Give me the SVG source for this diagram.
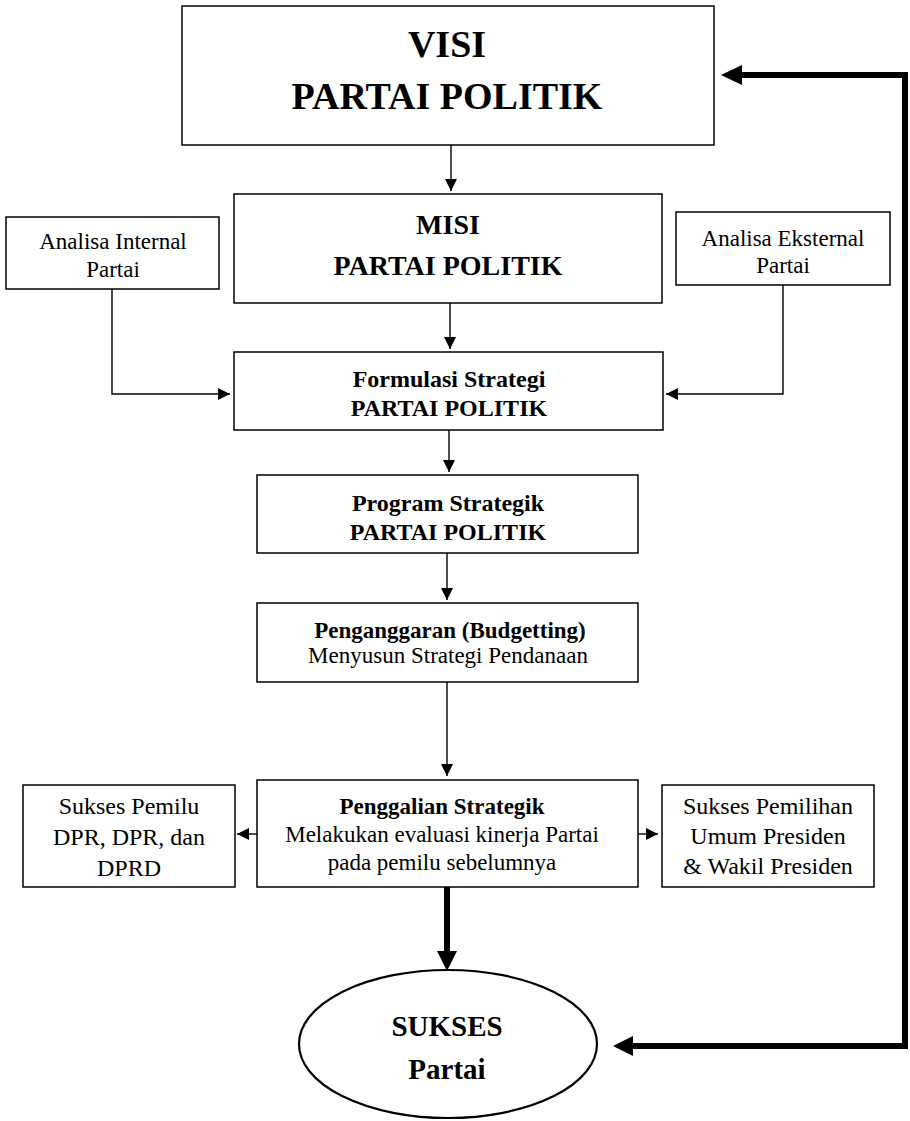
<svg xmlns="http://www.w3.org/2000/svg" width="910" height="1121" viewBox="0 0 910 1121">
  <style>
    .box { fill: #fff; stroke: #000; stroke-width: 1.5; }
    .t { font-family: "Liberation Serif", "DejaVu Serif", serif; fill: #000; text-anchor: middle; }
    .b { font-weight: bold; }
    .s { font-size: 23px; }
    .m { font-size: 24px; }
    .thin { fill: none; stroke: #000; stroke-width: 1.4; }
    .thick { fill: none; stroke: #000; stroke-width: 6; stroke-linejoin: miter; }
    .head { fill: #000; }
  </style>
  <defs>
    <marker id="arr" markerWidth="12" markerHeight="12" viewBox="0 0 12 12" refX="12" refY="6" orient="auto" markerUnits="userSpaceOnUse">
      <path d="M0,0 L12,6 L0,12 Z" fill="#000"/>
    </marker>
  </defs>

  <g id="connectors">
    <!-- main vertical flow -->
    <line class="thin" x1="451" y1="145" x2="451" y2="191" marker-end="url(#arr)"/>
    <line class="thin" x1="450" y1="303" x2="450" y2="349" marker-end="url(#arr)"/>
    <line class="thin" x1="449" y1="430" x2="449" y2="472" marker-end="url(#arr)"/>
    <line class="thin" x1="447" y1="553" x2="447" y2="600" marker-end="url(#arr)"/>
    <line class="thin" x1="447" y1="682" x2="447" y2="776" marker-end="url(#arr)"/>
    <!-- side inputs -->
    <polyline class="thin" points="112,289 112,394 230,394" marker-end="url(#arr)"/>
    <polyline class="thin" points="783,285 783,394 666,394" marker-end="url(#arr)"/>
    <!-- side outputs -->
    <line class="thin" x1="257" y1="834" x2="237" y2="834" marker-end="url(#arr)"/>
    <line class="thin" x1="638" y1="834" x2="658" y2="834" marker-end="url(#arr)"/>
    <!-- heavy arrow to result -->
    <line class="thick" x1="447" y1="887" x2="447" y2="954"/>
    <path class="head" d="M437,951 L457,951 L447,971 Z"/>
    <!-- feedback loop -->
    <polyline class="thick" points="630,1046 905,1046 905,75 740,75"/>
    <path class="head" d="M742,65 L721,75 L742,85 Z"/>
    <path class="head" d="M633,1036 L613,1046 L633,1056 Z"/>
  </g>

  <g id="visi">
    <rect class="box" x="182" y="6" width="532" height="139"/>
    <text class="t b" x="447" y="57" font-size="38">VISI</text>
    <text class="t b" x="447" y="109" font-size="38">PARTAI POLITIK</text>
  </g>

  <g id="misi">
    <rect class="box" x="234" y="194" width="428" height="109"/>
    <text class="t b" x="448" y="234" font-size="28">MISI</text>
    <text class="t b" x="448" y="275" font-size="28">PARTAI POLITIK</text>
  </g>

  <g id="analisa-internal">
    <rect class="box" x="6" y="217" width="213" height="72"/>
    <text class="t s" x="113" y="249">Analisa Internal</text>
    <text class="t s" x="113" y="277">Partai</text>
  </g>

  <g id="analisa-eksternal">
    <rect class="box" x="676" y="212" width="214" height="73"/>
    <text class="t s" x="783" y="246">Analisa Eksternal</text>
    <text class="t s" x="783" y="273">Partai</text>
  </g>

  <g id="formulasi">
    <rect class="box" x="234" y="352" width="429" height="78"/>
    <text class="t b m" x="449" y="387">Formulasi Strategi</text>
    <text class="t b m" x="449" y="416">PARTAI POLITIK</text>
  </g>

  <g id="program">
    <rect class="box" x="257" y="475" width="381" height="78"/>
    <text class="t b m" x="448" y="511">Program Strategik</text>
    <text class="t b m" x="448" y="540">PARTAI POLITIK</text>
  </g>

  <g id="penganggaran">
    <rect class="box" x="257" y="603" width="381" height="79"/>
    <text class="t b s" x="450" y="638">Penganggaran (Budgetting)</text>
    <text class="t s" x="448" y="663">Menyusun Strategi Pendanaan</text>
  </g>

  <g id="penggalian">
    <rect class="box" x="257" y="780" width="381" height="107"/>
    <text class="t b s" x="442" y="814">Penggalian Strategik</text>
    <text class="t s" x="442" y="842">Melakukan evaluasi kinerja Partai</text>
    <text class="t s" x="442" y="870">pada pemilu sebelumnya</text>
  </g>

  <g id="sukses-pemilu">
    <rect class="box" x="23" y="785" width="212" height="102"/>
    <text class="t m" x="129" y="814">Sukses Pemilu</text>
    <text class="t m" x="129" y="845">DPR, DPR, dan</text>
    <text class="t m" x="129" y="876">DPRD</text>
  </g>

  <g id="sukses-pilpres">
    <rect class="box" x="662" y="785" width="212" height="102"/>
    <text class="t m" x="768" y="814">Sukses Pemilihan</text>
    <text class="t m" x="768" y="844">Umum Presiden</text>
    <text class="t m" x="768" y="874">&amp; Wakil Presiden</text>
  </g>

  <g id="sukses-partai">
    <ellipse cx="448" cy="1044" rx="149" ry="74" fill="#fff" stroke="#000" stroke-width="2.2"/>
    <text class="t b" x="447" y="1036" font-size="29">SUKSES</text>
    <text class="t b" x="447" y="1079" font-size="29">Partai</text>
  </g>
</svg>
